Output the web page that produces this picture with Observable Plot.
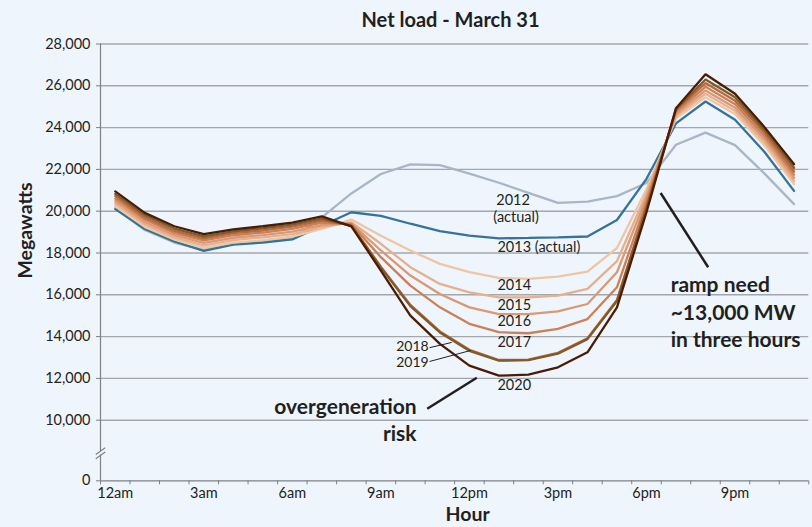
<!DOCTYPE html>
<html>
<head>
<meta charset="utf-8">
<script src="https://cdn.jsdelivr.net/npm/d3@7"></script>
<script src="https://cdn.jsdelivr.net/npm/@observablehq/plot@0.6"></script>
<style>
  body { margin: 0; background: #eef5fc; }
  #chart svg { display: block; }
</style>
</head>
<body>
<div id="chart"></div>
<script>
// ---- data ----
const hours = [0, 1, 2, 3, 4, 5, 6, 7, 8, 9, 10, 11, 12, 13, 14, 15, 16, 17, 18, 19, 20, 21, 22, 23];
const years = ["2012", "2013", "2014", "2015", "2016", "2017", "2018", "2019", "2020"];
const y2012 = [20150, 19100, 18500, 18150, 18450, 18550, 18700, 19700, 20850, 21780, 22240, 22200, 21800, 21360, 20880, 20400, 20460, 20720, 21350, 23180, 23760, 23160, 21800, 20340];
const y2013 = [20100, 19150, 18550, 18100, 18400, 18500, 18650, 19300, 19950, 19780, 19400, 19050, 18830, 18700, 18720, 18750, 18790, 19580, 21550, 24200, 25250, 24380, 22830, 20970];
const y2014 = [20250, 19250, 18650, 18250, 18500, 18620, 18780, 19150, 19600, 18830, 18120, 17480, 17080, 16810, 16760, 16870, 17110, 18240, 21050, 24450, 25450, 24650, 23150, 21300];
const y2015 = [20370, 19370, 18750, 18370, 18620, 18750, 18900, 19250, 19470, 18440, 17320, 16520, 16120, 15880, 15880, 15960, 16280, 17610, 20850, 24550, 25620, 24800, 23300, 21450];
const y2016 = [20480, 19480, 18850, 18480, 18730, 18860, 19020, 19350, 19420, 18120, 16920, 16040, 15400, 15080, 15080, 15210, 15560, 17080, 20650, 24650, 25780, 24950, 23450, 21600];
const y2017 = [20600, 19600, 18960, 18600, 18850, 18980, 19150, 19450, 19380, 17800, 16440, 15400, 14610, 14210, 14160, 14370, 14840, 16360, 20450, 24750, 25950, 25120, 23600, 21750];
const y2018 = [20720, 19700, 19060, 18700, 18950, 19080, 19260, 19550, 19330, 17350, 15520, 14250, 13370, 12880, 12900, 13220, 13920, 15750, 20250, 24830, 26130, 25280, 23750, 21900];
const y2019 = [20830, 19810, 19170, 18800, 19040, 19180, 19360, 19650, 19300, 17300, 15460, 14200, 13320, 12850, 12870, 13180, 13880, 15700, 20150, 24880, 26300, 25450, 23880, 22080];
const y2020 = [20950, 19920, 19280, 18900, 19130, 19280, 19450, 19750, 19270, 17160, 15000, 13650, 12610, 12130, 12180, 12530, 13250, 15400, 19950, 24930, 26550, 25620, 24020, 22250];
const seriesValues = [y2012, y2013, y2014, y2015, y2016, y2017, y2018, y2019, y2020];

const yTicks = [0, 10000, 12000, 14000, 16000, 18000, 20000, 22000, 24000, 26000, 28000];
const gridTicks = [10000, 12000, 14000, 16000, 18000, 20000, 22000, 24000, 26000, 28000];
const xTickHours = [0, 1, 2, 3, 4, 5, 6, 7, 8, 9, 10, 11, 12, 13, 14, 15, 16, 17, 18, 19, 20, 21, 22, 23, 24];
const xLabels = ["12am", "3am", "6am", "9am", "12pm", "3pm", "6pm", "9pm"];
const xLabelHours = [0, 3, 6, 9, 12, 15, 18, 21];

const colors = ["#a9b6c6", "#35739a", "#efc6a4", "#e6b08c", "#db9872", "#cd8057", "#b9693b", "#7d5b2a", "#4b1b06"];

// ---- build table ----
const table = years.flatMap((yr, k) =>
  seriesValues[k].map((v, i) => ({year: yr, hour: hours[i] + 0.5, mw: v}))
);

// annotations in data units (hour, MW)
const notesMiddle = [
  {text: "2012", hour: 13.98, mw: 20500},
  {text: "(actual)", hour: 14.08, mw: 19700}
];
const notesStart = [
  {text: "2013 (actual)", hour: 13.45, mw: 18250},
  {text: "2014", hour: 13.45, mw: 16440},
  {text: "2015", hour: 13.45, mw: 15490},
  {text: "2016", hour: 13.45, mw: 14720},
  {text: "2017", hour: 13.45, mw: 13720},
  {text: "2020", hour: 13.45, mw: 11660}
];
const notesEnd = [
  {text: "2018", hour: 11.12, mw: 13530},
  {text: "2019", hour: 11.12, mw: 12740}
];
const boldEnd = [
  {text: "overgeneration", hour: 10.71, mw: 10620},
  {text: "risk", hour: 10.71, mw: 7760}
];
const boldStart = [
  {text: "ramp need", hour: 19.32, mw: 16440},
  {text: "~13,000 MW", hour: 19.32, mw: 15140},
  {text: "in three hours", hour: 19.32, mw: 13810}
];
const thinLeaders = [
  {x1: 11.15, y1: 13470, x2: 11.9, y2: 13720},
  {x1: 11.15, y1: 12810, x2: 12.54, y2: 13335}
];
const boldLeaders = [
  {x1: 11.07, y1: 10545, x2: 12.75, y2: 12030},
  {x1: 18.98, y1: 20870, x2: 20.59, y2: 17320}
];
const breakSlashes = [
  {x1: -0.16, y1: 3650, x2: 0.16, y2: 4750},
  {x1: -0.16, y1: 4350, x2: 0.16, y2: 5450}
];
const titles = [
  {text: "Net load - March 31", hour: 11.86, mw: 29110}
];

const ink = "#231f20";
const axisGray = "#7d8186";
const font = "Lato";

const chart = Plot.plot({
  width: 812,
  height: 527,
  marginLeft: 100,
  marginRight: 3.7,
  marginTop: 43.5,
  marginBottom: 46.7,
  style: {background: "#eef5fc", fontFamily: font, color: ink, overflow: "visible"},
  x: {domain: [0, 24], axis: null},
  y: {type: "linear", domain: [0, 10000, 28000], range: [480.3, 419.7, 43.5], axis: null},
  color: {domain: years, range: colors},
  marks: [
    Plot.gridY(gridTicks, {stroke: "#a3a7ac", strokeOpacity: 1, strokeWidth: 1.4}),
    Plot.ruleY([0], {stroke: axisGray, strokeWidth: 1.2}),
    Plot.ruleX([0], {y1: 0, y2: 4250, stroke: axisGray, strokeWidth: 1.2}),
    Plot.ruleX([0], {y1: 4850, y2: 28000, stroke: axisGray, strokeWidth: 1.2}),
    Plot.link(breakSlashes, {x1: "x1", y1: "y1", x2: "x2", y2: "y2", stroke: axisGray, strokeWidth: 1.2}),
    Plot.axisY(yTicks, {tickFormat: d3.format(","), tickSize: 4, tickPadding: 6, fontSize: 14.5, stroke: axisGray, fill: ink, label: null}),
    Plot.axisX(xTickHours, {tickSize: 4, tickFormat: () => "", stroke: axisGray, label: null}),
    Plot.axisX(xLabelHours.map(h => h + 0.5), {tickSize: 0, tickPadding: 7, fontSize: 14.5, fill: ink, label: null,
      tickFormat: d => xLabels[xLabelHours.indexOf(d - 0.5)]}),
    Plot.line(table, {x: "hour", y: "mw", z: "year", stroke: "year", strokeWidth: 2.3, curve: "linear", strokeLinejoin: "miter"}),
    Plot.link(thinLeaders, {x1: "x1", y1: "y1", x2: "x2", y2: "y2", stroke: ink, strokeWidth: 1}),
    Plot.link(boldLeaders, {x1: "x1", y1: "y1", x2: "x2", y2: "y2", stroke: ink, strokeWidth: 2.5}),
    Plot.text(notesMiddle, {x: "hour", y: "mw", text: "text", textAnchor: "middle", fontSize: 14.5, fill: ink}),
    Plot.text(notesStart, {x: "hour", y: "mw", text: "text", textAnchor: "start", fontSize: 14.5, fill: ink}),
    Plot.text(notesEnd, {x: "hour", y: "mw", text: "text", textAnchor: "end", fontSize: 14, fill: ink}),
    Plot.text(boldEnd, {x: "hour", y: "mw", text: "text", textAnchor: "end", fontSize: 21, fontWeight: "bold", fill: ink}),
    Plot.text(boldStart, {x: "hour", y: "mw", text: "text", textAnchor: "start", fontSize: 21, fontWeight: "bold", fill: ink}),
    Plot.text(titles, {x: "hour", y: "mw", text: "text", textAnchor: "middle", lineAnchor: "middle", fontSize: 20, fontWeight: "bold", fill: ink}),
    Plot.text(["Megawatts"], {x: () => -2.54, y: () => 19080, textAnchor: "middle", lineAnchor: "middle", rotate: -90, fontSize: 19.5, fontWeight: "bold", fill: ink}),
    Plot.text(["Hour"], {x: () => 12.44, y: () => -5600, textAnchor: "middle", lineAnchor: "middle", fontSize: 19.5, fontWeight: "bold", fill: ink})
  ]
});
document.getElementById("chart").append(chart);
</script>
</body>
</html>
